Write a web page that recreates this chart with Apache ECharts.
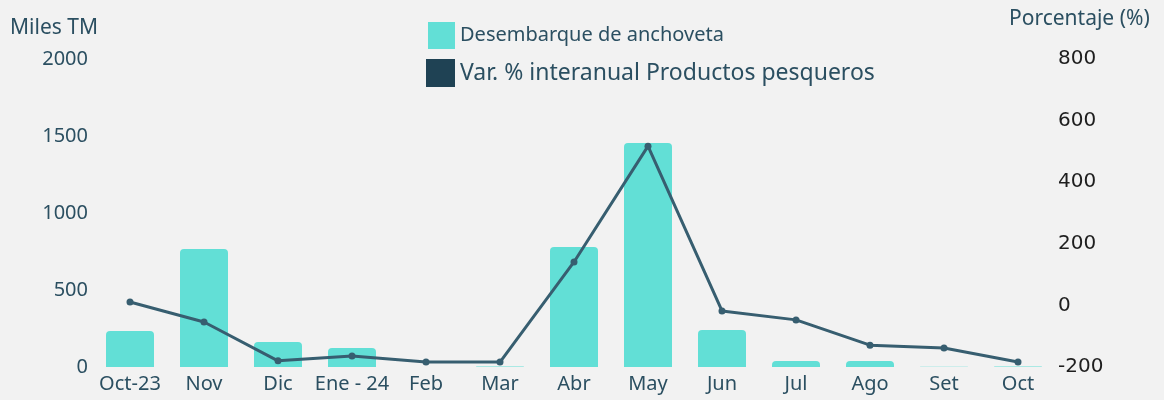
<!DOCTYPE html>
<html><head><meta charset="utf-8">
<script src="https://cdn.jsdelivr.net/npm/echarts@6/dist/echarts.min.js"></script>
<style>html,body{margin:0;padding:0;background:#f2f2f2}#c{width:1164px;height:400px}</style>
</head><body><div id="c"></div>
<script>
const categories = ['Oct-23','Nov','Dic','Ene - 24','Feb','Mar','Abr','May','Jun','Jul','Ago','Set','Oct'];
const desembarque = [234, 766, 162, 123, 0, 3, 779, 1455, 240, 39, 39, 2, 3];
const varPct = [11, -54, -180, -164, -184, -184, 141, 517, -18, -47, -129, -138, -184];
const leftTicks = {min: 0, max: 2000, interval: 500};
const rightTicks = {min: -200, max: 800, interval: 200};

const txt = '#2b4f61';
const chart = echarts.init(document.getElementById('c'));
chart.setOption({
  backgroundColor: '#f2f2f2',
  animation: false,
  grid: {left: 93, right: 109, top: 59, bottom: 33},
  legend: [
    {data: [{name: 'Desembarque de anchoveta', icon: 'rect'}], left: 423, top: 17, itemWidth: 27, itemHeight: 27, itemGap: 8,
     textStyle: {color: txt, fontSize: 20, fontFamily: 'Noto Sans'}},
    {data: [{name: 'Var. % interanual Productos pesqueros', icon: 'rect', itemStyle: {color: '#1f4254'}}], left: 421, top: 54, itemWidth: 29, itemHeight: 28, itemGap: 7,
     textStyle: {color: txt, fontSize: 23, fontFamily: 'Noto Sans'}}
  ],
  xAxis: {
    type: 'category', data: categories,
    axisLine: {show: false}, axisTick: {show: false},
    axisLabel: {color: txt, fontSize: 20, fontFamily: 'Noto Sans', margin: 7, interval: 0}
  },
  yAxis: [
    {type: 'value', min: leftTicks.min, max: leftTicks.max, interval: leftTicks.interval,
     name: 'Miles TM', nameLocation: 'end', nameGap: 20, nameTextStyle: {color: txt, fontSize: 21, fontFamily: 'Noto Sans', align: 'left', padding: [0, 0, 0, -83]},
     splitLine: {show: false}, axisLine: {show: false}, axisTick: {show: false},
     axisLabel: {color: txt, fontSize: 20, fontFamily: 'Noto Sans', margin: 5, formatter: v => String(v)}},
    {type: 'value', min: rightTicks.min, max: rightTicks.max, interval: rightTicks.interval,
     name: 'Porcentaje (%)', nameLocation: 'end', nameGap: 29, nameTextStyle: {color: txt, fontSize: 21, fontFamily: 'Noto Sans', align: 'left', padding: [0, 0, 0, -46]},
     splitLine: {show: false}, axisLine: {show: false}, axisTick: {show: false},
     axisLabel: {color: '#1e1e1e', fontSize: 20, fontFamily: 'DejaVu Sans', margin: 3, formatter: v => String(v)}}
  ],
  series: [
    {name: 'Desembarque de anchoveta', type: 'bar', data: desembarque, barWidth: 48,
     itemStyle: {color: '#62dfd6', borderRadius: [4, 4, 0, 0]}},
    {name: 'Var. % interanual Productos pesqueros', type: 'line', yAxisIndex: 1, data: varPct,
     symbol: 'circle', symbolSize: 7, lineStyle: {color: '#375e70', width: 3},
     itemStyle: {color: '#375e70'}}
  ]
});
</script></body></html>
